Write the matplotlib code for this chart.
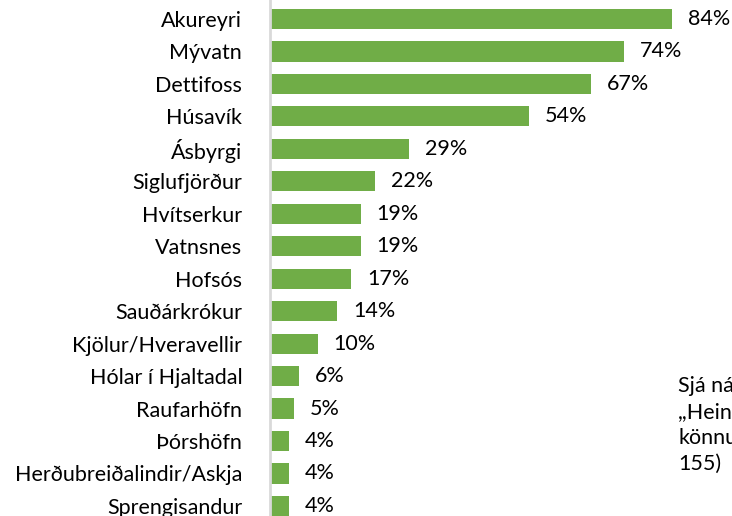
import matplotlib
matplotlib.use('Agg')
from matplotlib import pyplot as plt

stadir = ['Akureyri', 'Mývatn', 'Dettifoss', 'Húsavík', 'Ásbyrgi', 'Siglufjörður',
          'Hvítserkur', 'Vatnsnes', 'Hofsós', 'Sauðárkrókur', 'Kjölur/Hveravellir',
          'Hólar í Hjaltadal', 'Raufarhöfn', 'Þórshöfn', 'Herðubreiðalindir/Askja',
          'Sprengisandur']
hlutfall = [84, 74, 67, 54, 29, 22, 19, 19, 17, 14, 10, 6, 5, 4, 4, 4]
athugasemd = ['Sjá ná', ',,Hein', 'könnu', '155)']

plt.rcParams['font.family'] = ['Lato', 'DejaVu Sans']
fs = 15.5

fig = plt.figure(figsize=(7.32, 5.16), dpi=100)
ax = fig.add_axes([270/732, 0, 1 - 270/732, 1])

pos = list(range(len(stadir)))
ax.barh(pos, hlutfall, height=0.62, color='#70AD47')
ax.set_ylim(15.31, -0.585)
ax.set_xlim(0, 96.5)

for p, v in zip(pos, hlutfall):
    ax.text(v + 3.3, p, '%d%%' % v, va='center', ha='left', fontsize=fs, color='#000000')

ax.set_yticks(pos)
ax.set_yticklabels(stadir, fontsize=fs)
ax.tick_params(axis='y', length=0, pad=20)
ax.set_xticks([])
for s in ['top', 'right', 'bottom']:
    ax.spines[s].set_visible(False)
ax.spines['left'].set_color('#D9D9D9')
ax.spines['left'].set_linewidth(2)

for i, t in enumerate(athugasemd):
    fig.text(678/732, 1 - (386 + 26*i)/516, t, fontsize=fs, va='center', ha='left')

fig.savefig('out.png', dpi=100)
